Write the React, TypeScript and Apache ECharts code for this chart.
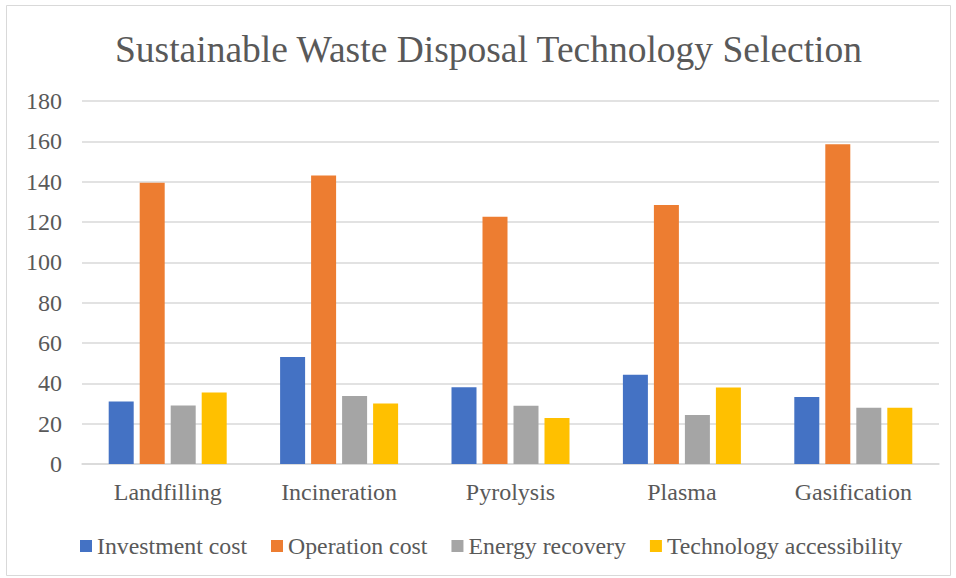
import React, { useEffect, useRef } from "react";
import * as echarts from "echarts";

const categories = ["Landfilling", "Incineration", "Pyrolysis", "Plasma", "Gasification"];
const investmentCost = [31, 53, 38, 44.3, 33.2];
const operationCost = [139.5, 143, 122.6, 128.4, 158.5];
const energyRecovery = [29, 33.7, 28.9, 24.3, 27.9];
const technologyAccessibility = [35.5, 30, 22.8, 37.9, 27.9];
const yTicks = { min: 0, max: 180, interval: 20 };

const FONT = "Liberation Serif";
const TEXT = "#595959";

export default function App() {
  const ref = useRef<HTMLDivElement>(null);

  useEffect(() => {
    if (!ref.current) return;
    const chart = echarts.init(ref.current, null, { renderer: "svg" });
    const bar = (name: string, data: number[], color: string) => ({
      name,
      type: "bar",
      data,
      barWidth: 25,
      barGap: "24%",
      itemStyle: { color },
    });
    chart.setOption({
      animation: false,
      backgroundColor: "#ffffff",
      title: {
        text: "Sustainable Waste Disposal Technology Selection",
        left: 110,
        top: 25,
        textStyle: { fontFamily: FONT, fontSize: 37.5, fontWeight: "normal", color: TEXT },
      },
      graphic: [
        {
          type: "rect",
          shape: { x: 6.5, y: 5.5, width: 944, height: 570 },
          style: { fill: "none", stroke: "#d9d9d9", lineWidth: 1 },
          silent: true,
        },
      ],
      legend: {
        top: 534,
        left: 80,
        padding: 0,
        itemWidth: 12,
        itemHeight: 12,
        itemGap: 24,
        icon: "rect",
        textStyle: { fontFamily: FONT, fontSize: 23.8, color: TEXT },
      },
      grid: { left: 82, right: 17, top: 101, bottom: 114, containLabel: false },
      xAxis: {
        type: "category",
        data: categories,
        axisTick: { show: false },
        axisLine: { lineStyle: { color: "#d9d9d9", width: 1.5 } },
        axisLabel: { fontFamily: FONT, fontSize: 24, color: TEXT, margin: 16 },
      },
      yAxis: {
        type: "value",
        min: yTicks.min,
        max: yTicks.max,
        interval: yTicks.interval,
        axisLine: { show: false },
        axisTick: { show: false },
        axisLabel: { fontFamily: FONT, fontSize: 24, color: TEXT, margin: 20 },
        splitLine: { lineStyle: { color: "#d9d9d9", width: 1.5 } },
      },
      series: [
        bar("Investment cost", investmentCost, "#4472C4"),
        bar("Operation cost", operationCost, "#ED7D31"),
        bar("Energy recovery", energyRecovery, "#A5A5A5"),
        bar("Technology accessibility", technologyAccessibility, "#FFC000"),
      ],
    });
    return () => chart.dispose();
  }, []);

  return (
    <div
      ref={ref}
      style={{ position: "fixed", left: 0, top: 0, width: 956, height: 578 }}
    />
  );
}
